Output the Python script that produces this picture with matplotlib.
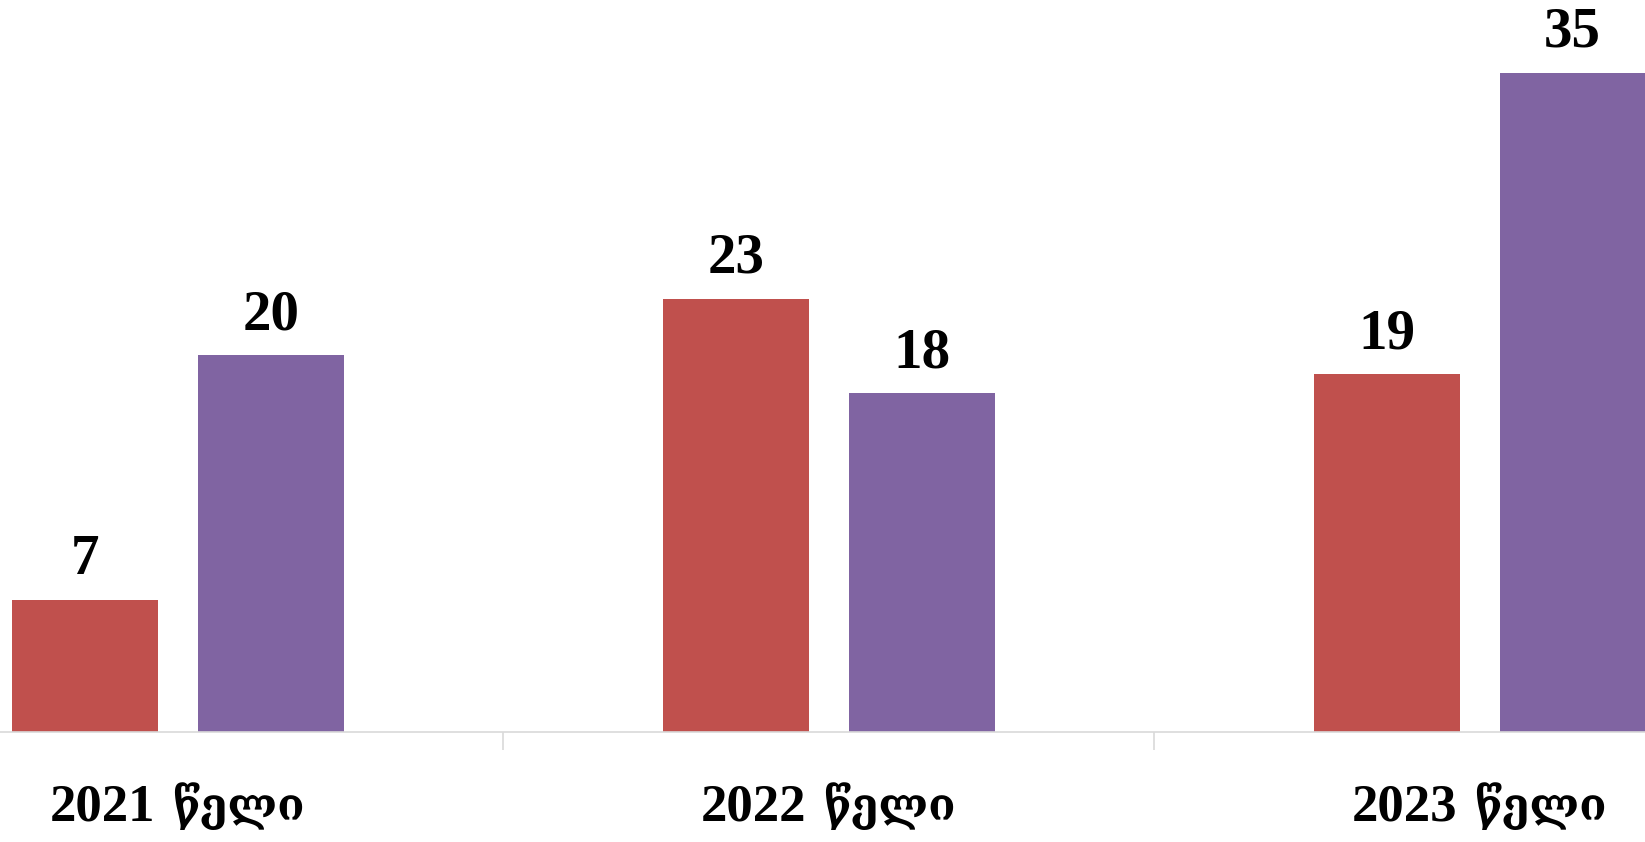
import numpy as np
import matplotlib.pyplot as plt
import matplotlib.transforms as mtransforms

years = ['2021 წელი', '2022 წელი', '2023 წელი']
series_red = [7, 23, 19]
series_purple = [20, 18, 35]

plt.rcParams['font.family'] = ['Liberation Serif', 'DejaVu Serif', 'DejaVu Sans']

fig = plt.figure(figsize=(16.45, 8.42), dpi=100)
ax = fig.add_axes([0, 110 / 842, 1, 732 / 842])

x = np.arange(len(years))
w = 0.224
off = 0.1425
b1 = ax.bar(x - off, series_red, width=w, color='#C0504D')
b2 = ax.bar(x + off, series_purple, width=w, color='#8064A2')

for bars, vals in ((b1, series_red), (b2, series_purple)):
    for b, v in zip(bars, vals):
        ax.annotate(str(v), (b.get_x() + b.get_width() / 2, b.get_height()),
                    xytext=(0, 18.7), textcoords='offset points',
                    ha='center', va='baseline', fontsize=41, fontweight='bold')

ax.set_xlim(-0.2733, 2.2536)
ax.set_ylim(0, 38.87)

# category labels below the axis: year and georgian word
trans = mtransforms.blended_transform_factory(ax.transData, ax.transAxes)
for xi, lab in zip(x, years):
    yr, word = lab.split(' ', 1)
    ax.annotate(yr, (xi, 0), xycoords=trans, xytext=(-16, -63.5), textcoords='offset points',
                ha='right', va='baseline', fontsize=38, fontweight='bold')
    ax.annotate(word, (xi, 0), xycoords=trans, xytext=(-4, -63.5), textcoords='offset points',
                ha='left', va='baseline', fontsize=32, fontweight='bold',
                family=['DejaVu Serif', 'DejaVu Sans'])

for s in ['top', 'left', 'right']:
    ax.spines[s].set_visible(False)
ax.spines['bottom'].set_color('#D9D9D9')
ax.spines['bottom'].set_linewidth(1.2)
ax.set_yticks([])
ax.set_xticks([])
ax.set_xticks([0.5, 1.5], minor=True)
ax.tick_params(axis='x', which='minor', length=13, width=1.2, color='#D9D9D9', direction='out')
ax.tick_params(axis='x', which='minor', labelbottom=False)

fig.savefig('out.png', dpi=100)
